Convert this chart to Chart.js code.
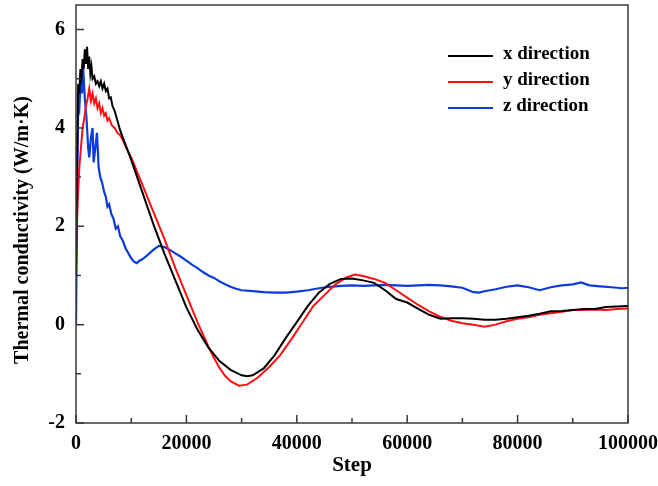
<!DOCTYPE html>
<html>
<head>
<meta charset="utf-8">
<script src="https://cdn.jsdelivr.net/npm/chart.js@4/dist/chart.umd.min.js"></script>
<style>
  body { margin: 0; background: #fff; }
  #wrap { width: 658px; height: 486px; }
</style>
</head>
<body>
<div id="wrap"><canvas id="chart"></canvas></div>
<script>
// x direction
const xSteps = [0, 200, 400, 600, 800, 1000, 1200, 1400, 1600, 1800, 2000, 2200, 2400, 2600, 2800, 3000, 3300, 3600, 3900, 4200, 4500, 4800, 5100, 5400, 5700, 6000, 6300, 6600, 7000, 8000, 9000, 10000, 12000, 14000, 16000, 18000, 20000, 22000, 24000, 26000, 28000, 30000, 31000, 32000, 34000, 36000, 38000, 40000, 42000, 44000, 46000, 48000, 50000, 52000, 54000, 56000, 58000, 60000, 62000, 64000, 66000, 68000, 70000, 72000, 74000, 76000, 78000, 80000, 82000, 84000, 86000, 88000, 90000, 92000, 94000, 96000, 98000, 100000];
const xValues = [1.0, 3.6, 4.9, 4.7, 5.2, 5.05, 5.4, 5.2, 5.6, 5.3, 5.65, 5.2, 5.45, 5.1, 5.25, 5.0, 5.05, 4.9, 4.95, 4.85, 4.95, 4.8, 4.9, 4.75, 4.8, 4.6, 4.62, 4.45, 4.35, 3.95, 3.65, 3.35, 2.7, 2.05, 1.45, 0.9, 0.35, -0.1, -0.47, -0.74, -0.92, -1.03, -1.05, -1.03, -0.89, -0.62, -0.27, 0.05, 0.38, 0.65, 0.83, 0.93, 0.94, 0.9, 0.85, 0.7, 0.52, 0.45, 0.32, 0.2, 0.12, 0.13, 0.13, 0.12, 0.1, 0.1, 0.12, 0.15, 0.18, 0.22, 0.27, 0.28, 0.3, 0.32, 0.32, 0.36, 0.37, 0.38];

// y direction
const ySteps = [0, 300, 600, 900, 1200, 1500, 1800, 2100, 2400, 2700, 3000, 3300, 3600, 3900, 4200, 4500, 4800, 5100, 5400, 5700, 6000, 6500, 7000, 7500, 8000, 8500, 9000, 10000, 12000, 14000, 16000, 18000, 20000, 22000, 24000, 25000, 26000, 27000, 28000, 29500, 31000, 33000, 35000, 37000, 39000, 41000, 43000, 45000, 47000, 49000, 50500, 52000, 54000, 56000, 58000, 60000, 62000, 64000, 66000, 68000, 70000, 72000, 74000, 76000, 78000, 80000, 82000, 84000, 86000, 88000, 90000, 92000, 94000, 96000, 98000, 100000];
const yValues = [1.5, 2.5, 3.2, 3.6, 4.0, 4.2, 4.45, 4.6, 4.8, 4.55, 4.7, 4.5, 4.6, 4.4, 4.5, 4.3, 4.4, 4.25, 4.3, 4.15, 4.2, 4.05, 4.0, 3.9, 3.85, 3.75, 3.62, 3.4, 2.85, 2.3, 1.75, 1.15, 0.6, 0.05, -0.45, -0.68, -0.88, -1.04, -1.15, -1.24, -1.22, -1.07, -0.86, -0.62, -0.3, 0.04, 0.38, 0.6, 0.82, 0.96, 1.02, 0.99, 0.93, 0.85, 0.7, 0.55, 0.4, 0.27, 0.16, 0.08, 0.03, 0.0, -0.04, 0.0, 0.07, 0.12, 0.15, 0.2, 0.23, 0.26, 0.3, 0.3, 0.31, 0.3, 0.32, 0.33];

// z direction
const zSteps = [0, 200, 400, 600, 900, 1100, 1300, 1600, 1900, 2200, 2400, 2700, 3000, 3200, 3500, 3800, 4100, 4400, 4700, 5100, 5400, 5700, 6000, 6400, 6800, 7200, 7600, 8000, 8500, 9000, 9500, 10000, 10500, 11000, 11500, 12000, 13000, 14000, 15000, 16000, 17000, 18000, 19000, 20000, 21000, 22000, 23000, 24000, 25000, 26000, 27000, 28000, 29000, 30000, 32000, 34000, 36000, 38000, 40000, 42000, 44000, 46000, 48000, 50000, 52000, 54000, 56000, 58000, 60000, 62000, 64000, 66000, 68000, 70000, 72000, 73000, 74000, 76000, 78000, 80000, 82000, 84000, 86000, 88000, 90000, 91500, 93000, 95000, 97000, 99000, 100000];
const zValues = [0.0, 2.5, 4.5, 4.4, 5.1, 4.7, 5.2, 4.6, 4.2, 3.6, 3.4, 3.8, 4.0, 3.3, 3.6, 3.9, 3.2, 3.0, 2.9, 2.7, 2.6, 2.4, 2.45, 2.25, 2.15, 1.95, 2.0, 1.8, 1.7, 1.55, 1.45, 1.35, 1.28, 1.25, 1.3, 1.33, 1.42, 1.52, 1.6, 1.58, 1.52, 1.45, 1.38, 1.3, 1.22, 1.15, 1.07, 1.0, 0.95, 0.88, 0.82, 0.77, 0.73, 0.7, 0.68, 0.66, 0.65, 0.65, 0.67, 0.7, 0.74, 0.77, 0.79, 0.8, 0.79, 0.8, 0.81, 0.8, 0.79, 0.8, 0.81, 0.8, 0.78, 0.75, 0.66, 0.65, 0.68, 0.72, 0.77, 0.8, 0.76, 0.7, 0.76, 0.8, 0.82, 0.86, 0.8, 0.78, 0.76, 0.74, 0.75];

const seriesNames = ['x direction', 'y direction', 'z direction'];
const xTicks = [0, 20000, 40000, 60000, 80000, 100000];
const xMinorTicks = [10000, 30000, 50000, 70000, 90000];
const yTicks = [-2, 0, 2, 4, 6];
const yMinorTicks = [-1, 1, 3, 5];
const yTitle = 'Thermal conductivity (W/m·K)';

const serif = "'Liberation Serif', 'Times New Roman', serif";
const colors = ['#000000', '#ff1010', '#0b3bd9'];

function pts(steps, vals) {
  return steps.map((s, i) => ({ x: s, y: vals[i] }));
}

// box frame + inward ticks
const frame = {
  id: 'frame',
  afterDatasetsDraw(chart) {
    const { ctx, chartArea: a, scales: { x, y } } = chart;
    ctx.save();
    ctx.strokeStyle = '#3a3a3a';
    ctx.lineWidth = 1.5;
    ctx.strokeRect(a.left, a.top, a.right - a.left, a.bottom - a.top);
    ctx.beginPath();
    xTicks.forEach(v => { const p = x.getPixelForValue(v); ctx.moveTo(p, a.bottom); ctx.lineTo(p, a.bottom - 8); });
    xMinorTicks.forEach(v => { const p = x.getPixelForValue(v); ctx.moveTo(p, a.bottom); ctx.lineTo(p, a.bottom - 5); });
    yTicks.forEach(v => { const p = y.getPixelForValue(v); ctx.moveTo(a.left, p); ctx.lineTo(a.left + 8, p); });
    yMinorTicks.forEach(v => { const p = y.getPixelForValue(v); ctx.moveTo(a.left, p); ctx.lineTo(a.left + 5, p); });
    ctx.stroke();
    ctx.restore();
  }
};

// legend inside the plot (top right) and the y title, a bit below centre like the original
const extras = {
  id: 'extras',
  afterDraw(chart) {
    const ctx = chart.ctx;
    ctx.save();
    ctx.font = 'bold 19px ' + serif;
    ctx.textBaseline = 'middle';
    chart.data.datasets.forEach((ds, i) => {
      const yy = 54 + i * 26;
      ctx.strokeStyle = ds.borderColor;
      ctx.lineWidth = 2;
      ctx.beginPath();
      ctx.moveTo(448, yy + 2);
      ctx.lineTo(493, yy + 2);
      ctx.stroke();
      ctx.fillStyle = '#000';
      ctx.fillText(ds.label, 503, yy);
    });
    ctx.translate(23, 230);
    ctx.rotate(-Math.PI / 2);
    ctx.textAlign = 'center';
    ctx.font = 'bold 20px ' + serif;
    ctx.fillText(yTitle, 0, 0);
    ctx.restore();
  }
};

new Chart(document.getElementById('chart'), {
  type: 'line',
  data: {
    datasets: [
      { label: seriesNames[0], data: pts(xSteps, xValues), borderColor: colors[0], borderWidth: 2 },
      { label: seriesNames[1], data: pts(ySteps, yValues), borderColor: colors[1], borderWidth: 2 },
      { label: seriesNames[2], data: pts(zSteps, zValues), borderColor: colors[2], borderWidth: 2.2 }
    ]
  },
  options: {
    responsive: true,
    maintainAspectRatio: false,
    animation: false,
    layout: { padding: { top: 5, right: 30, left: 0, bottom: 0 } },
    elements: { point: { radius: 0 }, line: { tension: 0 } },
    plugins: { legend: { display: false }, tooltip: { enabled: false } },
    scales: {
      x: {
        type: 'linear',
        min: 0,
        max: 100000,
        afterBuildTicks: s => { s.ticks = xTicks.map(v => ({ value: v })); },
        afterFit: s => { s.height = 63; s.paddingLeft = 0; s.paddingRight = 0; },
        grid: { display: false, drawTicks: false },
        border: { display: false },
        ticks: { color: '#000', font: { family: serif, size: 20, weight: 'bold' }, padding: 9, maxRotation: 0, callback: v => String(v) },
        title: { display: true, text: 'Step', color: '#000', font: { family: serif, size: 21, weight: 'bold' }, padding: { bottom: 8 } }
      },
      y: {
        type: 'linear',
        min: -2,
        max: 6.5,
        afterBuildTicks: s => { s.ticks = yTicks.map(v => ({ value: v })); },
        afterFit: s => { s.width = 76; s.paddingTop = 0; s.paddingBottom = 0; },
        grid: { display: false, drawTicks: false },
        border: { display: false },
        ticks: { color: '#000', font: { family: serif, size: 20, weight: 'bold' }, padding: 11, callback: v => String(v) }
      }
    }
  },
  plugins: [frame, extras]
});
</script>
</body>
</html>
